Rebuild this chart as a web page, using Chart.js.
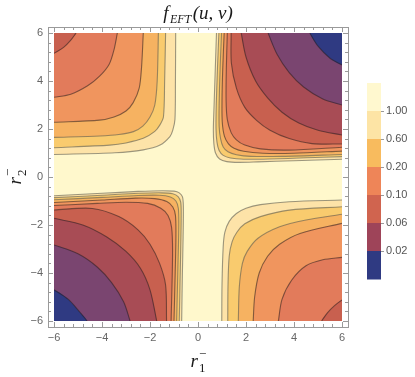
<!DOCTYPE html>
<html><head><meta charset="utf-8">
<script src="https://cdn.jsdelivr.net/npm/chart.js@4/dist/chart.umd.min.js"></script>
<style>html,body{margin:0;padding:0;background:#fff}</style>
</head><body>
<div style="width:415px;height:377px"><canvas id="c" width="415" height="377"></canvas></div>
<script>
// ---- tick labels ----
const xTickLabels = [-6, -4, -2, 0, 2, 4, 6];
const yTickLabels = [-6, -4, -2, 0, 2, 4, 6];
// ---- colour bar legend ----
const legendLabels = ['1.00', '0.60', '0.20', '0.10', '0.06', '0.02'];
const legendColors = ['#FFF8CF', '#FDE4A5', '#F8BB5E', '#EE8558', '#D0644F', '#9E4459', '#2F3A82'];
// ---- region colours (outside all contours -> innermost) ----
const regionColors = ['#FFF8CC', '#FDE3A8', '#F9CB6E', '#F6B261', '#F0955E', '#E27B5B', '#C8604F', '#A84C55', '#7A4570', '#2F3A82'];

// ---- contour lines, [u, v] ----
// quadrant I (u>0, v>0): from top edge to right edge
const q1Contours = [
  [[0.77,6],[0.72,4.5],[0.67,3],[0.64,2],[0.66,1.4],[0.73,1.0],[0.9,0.75],[1.2,0.64],[1.7,0.61],[2.5,0.63],[4,0.68],[6,0.74]],
  [[0.87,6],[0.81,4.5],[0.76,3],[0.75,2],[0.79,1.45],[0.88,1.1],[1.05,0.9],[1.35,0.79],[1.9,0.74],[3,0.75],[4.5,0.8],[6,0.85]],
  [[0.98,6],[0.92,4.5],[0.88,3],[0.88,2.1],[0.94,1.6],[1.05,1.25],[1.25,1.05],[1.6,0.93],[2.2,0.86],[3.5,0.86],[6,0.94]],
  [[1.09,6],[1.03,4.5],[1.0,3.2],[1.01,2.3],[1.1,1.7],[1.27,1.38],[1.5,1.2],[1.9,1.07],[2.7,0.99],[4,0.99],[6,1.08]],
  [[1.22,6],[1.18,4.5],[1.17,3.2],[1.22,2.4],[1.38,1.85],[1.6,1.55],[1.95,1.33],[2.6,1.17],[3.8,1.12],[6,1.24]],
  [[1.38,6],[1.39,4.75],[1.6,3.7],[1.95,2.9],[2.45,2.35],[3.0,1.95],[3.8,1.6],[4.75,1.39],[6,1.375]],
  [[1.8,6],[2.0,5.0],[2.4,4.0],[2.9,3.3],[3.5,2.7],[4.2,2.25],[5.0,1.95],[6,1.75]],
  [[2.92,6],[3.3,5.1],[3.8,4.35],[4.4,3.75],[5.2,3.25],[6,3.0]],
  [[4.66,6],[5.0,5.45],[5.5,4.95],[6,4.67]]
];
// quadrant II (u<0, v>0): from top edge to left edge
const q2Contours = [
  [[-0.93,6],[-0.94,4],[-0.96,2.4],[-1.05,1.95],[-1.17,1.68],[-1.58,1.33],[-2.28,1.13],[-3.46,1.01],[-6,0.94]],
  [[-1.35,6],[-1.39,4],[-1.44,2.5],[-1.6,2.15],[-1.8,1.9],[-2.28,1.61],[-3.0,1.42],[-3.67,1.33],[-6,1.22]],
  [[-1.65,6],[-1.7,4],[-1.8,3.0],[-2.0,2.5],[-2.3,2.12],[-2.69,1.89],[-3.3,1.77],[-4.08,1.71],[-6,1.65]],
  [[-2.28,6],[-2.35,4.6],[-2.45,3.7],[-2.7,3.1],[-3.0,2.75],[-3.5,2.5],[-4.1,2.37],[-6,2.28]],
  [[-3.36,6],[-3.5,5.3],[-3.7,4.7],[-4.1,4.2],[-4.6,3.8],[-5.3,3.45],[-6,3.32]],
  [[-5.08,6],[-5.3,5.7],[-5.6,5.4],[-6,5.15]]
];
// quadrant III (u<0, v<0): from left edge to bottom edge
const q3Contours = [
  [[-6,-0.78],[-4,-0.68],[-2.5,-0.6],[-1.5,-0.57],[-1.0,-0.59],[-0.78,-0.66],[-0.65,-0.82],[-0.61,-1.2],[-0.62,-2.5],[-0.65,-4],[-0.68,-6]],
  [[-6,-0.86],[-4,-0.76],[-2.5,-0.68],[-1.5,-0.66],[-1.05,-0.7],[-0.83,-0.82],[-0.72,-1.05],[-0.7,-1.6],[-0.72,-3],[-0.75,-4.5],[-0.78,-6]],
  [[-6,-0.95],[-4,-0.85],[-2.5,-0.77],[-1.6,-0.76],[-1.15,-0.83],[-0.92,-1.0],[-0.82,-1.3],[-0.8,-2],[-0.83,-3.5],[-0.89,-6]],
  [[-6,-1.06],[-4,-0.96],[-2.6,-0.88],[-1.8,-0.9],[-1.3,-1.02],[-1.05,-1.25],[-0.94,-1.6],[-0.92,-2.5],[-0.95,-4],[-1.0,-6]],
  [[-6,-1.19],[-4.2,-1.1],[-3,-1.05],[-2.1,-1.1],[-1.55,-1.3],[-1.25,-1.6],[-1.1,-2.1],[-1.06,-3.2],[-1.12,-6]],
  [[-6,-1.375],[-4.4,-1.31],[-3.3,-1.65],[-2.5,-2.2],[-2.0,-2.8],[-1.6,-3.6],[-1.35,-4.5],[-1.31,-6]],
  [[-6,-1.72],[-4.8,-2.0],[-3.8,-2.5],[-3.0,-3.1],[-2.4,-3.8],[-2.0,-4.7],[-1.72,-6]],
  [[-6,-2.83],[-5.0,-3.2],[-4.2,-3.75],[-3.6,-4.4],[-3.1,-5.2],[-2.83,-6]],
  [[-6,-4.7],[-5.4,-5.1],[-4.95,-5.6],[-4.62,-6]]
];
// quadrant IV (u>0, v<0): from bottom edge to right edge
const q4Contours = [
  [[0.99,-6],[1.0,-4.5],[1.05,-2.9],[1.12,-2.3],[1.3,-1.85],[1.6,-1.52],[2.0,-1.3],[2.6,-1.15],[3.8,-1.03],[6,-0.96]],
  [[1.24,-6],[1.25,-4.5],[1.3,-3.3],[1.42,-2.7],[1.62,-2.3],[1.95,-1.95],[2.6,-1.65],[3.8,-1.38],[6,-1.24]],
  [[1.68,-6],[1.72,-4.6],[1.85,-3.6],[2.05,-3.1],[2.5,-2.55],[3.4,-2.07],[4.5,-1.79],[6,-1.55]],
  [[2.3,-6],[2.36,-5.0],[2.55,-4.0],[2.9,-3.3],[3.4,-2.8],[4.25,-2.35],[6,-1.93]],
  [[3.35,-6],[3.5,-5.1],[3.9,-4.3],[4.5,-3.7],[5.2,-3.45],[6,-3.35]],
  [[5.15,-6],[5.4,-5.65],[5.7,-5.35],[6,-5.125]]
];
const quadrants = [
  {contours: q1Contours, corner: [1, 1]},
  {contours: q2Contours, corner: [-1, 1]},
  {contours: q3Contours, corner: [-1, -1]},
  {contours: q4Contours, corner: [1, -1]}
];

const LIM = 6, EXT = 6.6, TENSION = 0.3;
function pushOut(p) {
  if (Math.abs(p[0]) >= LIM - 1e-6) return {x: Math.sign(p[0]) * EXT, y: p[1]};
  return {x: p[0], y: Math.sign(p[1]) * EXT};
}
const datasets = [];
let fillOrder = 1000;
quadrants.forEach(q => {
  q.contours.forEach((c, k) => {
    const pts = c.map(p => ({x: p[0], y: p[1]}));
    const poly = [pushOut(c[0])].concat(pts, [pushOut(c[c.length - 1]), {x: q.corner[0] * EXT, y: q.corner[1] * EXT}]);
    datasets.push({data: poly, fill: 'shape', backgroundColor: regionColors[k + 1], borderWidth: 0,
      borderColor: 'rgba(0,0,0,0)', pointRadius: 0, tension: TENSION, order: fillOrder--});
    const dark = k >= 3;
    datasets.push({data: pts, fill: false, borderColor: dark ? 'rgba(40,30,30,0.55)' : 'rgba(90,90,80,0.6)',
      borderWidth: 1.1, pointRadius: 0, tension: TENSION, order: 0});
  });
});

const FRAME = 6;
const framePlugin = {
  id: 'frame',
  beforeDatasetsDraw(chart) {
    const {ctx, chartArea: a} = chart;
    ctx.save();
    ctx.fillStyle = regionColors[0];
    ctx.fillRect(a.left, a.top, a.right - a.left, a.bottom - a.top);
    ctx.restore();
  },
  afterDraw(chart) {
    const {ctx, chartArea: a, scales} = chart;
    const L = a.left - FRAME, R = a.right + FRAME, T = a.top - FRAME, B = a.bottom + FRAME;
    ctx.save();
    ctx.strokeStyle = '#9a9a9a';
    ctx.lineWidth = 1;
    ctx.strokeRect(L + 0.5, T + 0.5, R - L, B - T);
    ctx.beginPath();
    for (let i = -15; i <= 15; i++) {
      const v = i * 0.4;
      if (Math.abs(v) > 6.2) continue;
      const major = Math.abs(v / 2 - Math.round(v / 2)) < 1e-6;
      const len = major ? 5 : 3;
      const px = Math.round(scales.x.getPixelForValue(v)) + 0.5;
      const py = Math.round(scales.y.getPixelForValue(v)) + 0.5;
      ctx.moveTo(px, B); ctx.lineTo(px, B - len);
      ctx.moveTo(px, T + 0.5); ctx.lineTo(px, T + len);
      ctx.moveTo(L + 0.5, py); ctx.lineTo(L + len, py);
      ctx.moveTo(R, py); ctx.lineTo(R - len, py);
    }
    ctx.stroke();

    // title f_EFT(u,v)
    ctx.fillStyle = '#1a1a1a';
    ctx.textBaseline = 'alphabetic';
    const big = "italic 19px 'Liberation Serif'", small = "italic 12px 'Liberation Serif'";
    ctx.font = big; const wf = ctx.measureText('f').width;
    ctx.font = small; const ws = ctx.measureText('EFT').width;
    ctx.font = big; const wr = ctx.measureText('(u, v)').width;
    let x0 = (a.left + a.right) / 2 - (wf + ws + wr + 3) / 2;
    ctx.font = big; ctx.fillText('f', x0, 19);
    ctx.font = small; ctx.fillText('EFT', x0 + wf + 1.5, 23);
    ctx.font = big; ctx.fillText('(u, v)', x0 + wf + ws + 3, 19);

    // axis titles r1^- and r2^-
    function rTitle(sub, cx, cy, rot) {
      ctx.save();
      ctx.translate(cx, cy);
      ctx.rotate(rot);
      ctx.font = "italic 19px 'Liberation Serif'";
      const w = ctx.measureText('r').width;
      ctx.fillText('r', -w, 0);
      ctx.font = "13px 'Liberation Serif'";
      ctx.fillText(sub, 1, 5);
      ctx.fillText('\u2212', 1, -9);
      ctx.restore();
    }
    rTitle('1', (a.left + a.right) / 2, 367, 0);
    rTitle('2', 21, (a.top + a.bottom) / 2, -Math.PI / 2);

    // colour bar
    const bx = 367, bw = 14, by = 83, bh = 28;
    legendColors.forEach((c, i) => { ctx.fillStyle = c; ctx.fillRect(bx, by + i * bh, bw, bh + 0.5); });
    ctx.fillStyle = '#555';
    ctx.strokeStyle = '#999';
    ctx.font = "11px 'Liberation Sans'";
    ctx.textBaseline = 'middle';
    legendLabels.forEach((t, i) => {
      const y = by + (i + 1) * bh;
      ctx.beginPath(); ctx.moveTo(bx + bw, y + 0.5); ctx.lineTo(bx + bw + 3, y + 0.5); ctx.stroke();
      ctx.fillText(t, bx + bw + 5, y);
    });
    ctx.restore();
  }
};

const tickFont = {family: "'Liberation Sans'", size: 11};
new Chart(document.getElementById('c'), {
  type: 'line',
  data: {datasets},
  options: {
    responsive: false, animation: false, events: [],
    layout: {padding: {left: 0, top: 33, right: 73, bottom: 0}},
    plugins: {legend: {display: false}, tooltip: {enabled: false}, title: {display: false}},
    scales: {
      x: {type: 'linear', min: -6, max: 6,
        afterBuildTicks: s => { s.ticks = xTickLabels.map(v => ({value: v})); },
        afterFit: s => { s.height = 56; },
        grid: {display: false, drawTicks: false}, border: {display: false},
        ticks: {color: '#666', font: tickFont, padding: 10, maxRotation: 0,
          callback: v => (v < 0 ? '\u2212' + Math.abs(v) : String(v))}},
      y: {type: 'linear', min: -6, max: 6,
        afterBuildTicks: s => { s.ticks = yTickLabels.map(v => ({value: v})); },
        afterFit: s => { s.width = 54; },
        grid: {display: false, drawTicks: false}, border: {display: false},
        ticks: {color: '#666', font: tickFont, padding: 11,
          callback: v => (v < 0 ? '\u2212' + Math.abs(v) : String(v))}}
    }
  },
  plugins: [framePlugin]
});
</script>
</body></html>
